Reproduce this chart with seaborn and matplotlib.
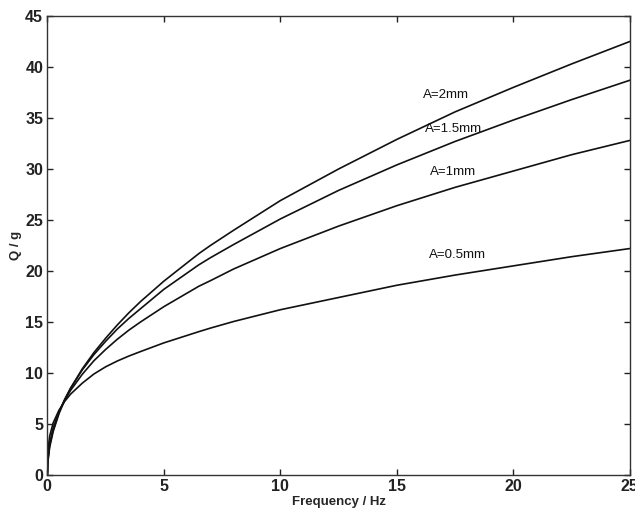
import matplotlib
matplotlib.use("Agg")
import matplotlib.pyplot as plt
import seaborn as sns
import pandas as pd

freq = [0, 0.02, 0.1, 0.25, 0.5, 0.75, 1, 1.5, 2, 2.5, 3, 3.5, 4, 5, 6.5, 7, 8, 10, 12.5, 15, 17.5, 20, 22.5, 25]
q_a2 = [0, 1.2, 2.7, 4.25, 6.0, 7.36, 8.5, 10.4, 12.0, 13.4, 14.7, 15.9, 17.0, 19.0, 21.7, 22.5, 24.0, 26.9, 30.0, 32.9, 35.6, 38.0, 40.3, 42.5]
q_a15 = [0, 1.35, 2.9, 4.4, 6.15, 7.44, 8.52, 10.3, 11.8, 13.1, 14.3, 15.35, 16.3, 18.2, 20.6, 21.3, 22.6, 25.1, 27.9, 30.4, 32.7, 34.8, 36.8, 38.7]
q_a1 = [0, 1.55, 3.1, 4.6, 6.2, 7.34, 8.3, 9.87, 11.2, 12.3, 13.3, 14.2, 15.0, 16.5, 18.5, 19.05, 20.2, 22.2, 24.4, 26.4, 28.2, 29.8, 31.4, 32.8]
q_a05 = [0, 2.3, 3.8, 5.1, 6.35, 7.23, 7.93, 9.0, 9.9, 10.6, 11.17, 11.66, 12.1, 12.95, 14.05, 14.4, 15.05, 16.2, 17.4, 18.6, 19.6, 20.5, 21.4, 22.2]
series_names = ["A=2mm", "A=1.5mm", "A=1mm", "A=0.5mm"]
label_x = [17.1, 17.45, 17.4, 17.6]
label_y = [37.3, 33.9, 29.75, 21.6]
x_ticks = [0, 5, 10, 15, 20, 25]
y_ticks = [0, 5, 10, 15, 20, 25, 30, 35, 40, 45]

rows = []
for name, vals in zip(series_names, [q_a2, q_a15, q_a1, q_a05]):
    for f, q in zip(freq, vals):
        rows.append({"freq": f, "Q": q, "series": name})
df = pd.DataFrame(rows)

sns.set_style("ticks")
plt.rcParams["font.family"] = ["Liberation Sans", "DejaVu Sans"]

fig = plt.figure(figsize=(6.35, 5.15), dpi=100)
ax = fig.add_axes([0.0745, 0.0777, 0.9175, 0.8913])
sns.lineplot(data=df, x="freq", y="Q", hue="series", palette=["#111111"] * 4,
             linewidth=1.2, legend=False, ax=ax, sort=False)

for name, lx, ly in zip(series_names, label_x, label_y):
    ax.text(lx, ly, name, ha="center", va="center", fontsize=9.5, color="#111111")

ax.set_xlim(0, 25)
ax.set_ylim(0, 45)
ax.set_xticks(x_ticks)
ax.set_yticks(y_ticks)
ax.tick_params(direction="in", length=4, width=1, top=True, right=True,
               labelsize=11.5, colors="#222222", pad=3)
for lab in ax.get_xticklabels() + ax.get_yticklabels():
    lab.set_fontweight("bold")
for s in ax.spines.values():
    s.set_visible(True)
    s.set_linewidth(1.0)
    s.set_color("#333333")
ax.set_xlabel("Frequency / Hz", fontsize=9.5, fontweight="bold", labelpad=1)
ax.set_ylabel("Q / g", fontsize=9.5, fontweight="bold", labelpad=2)

fig.savefig("out.png", dpi=100)
